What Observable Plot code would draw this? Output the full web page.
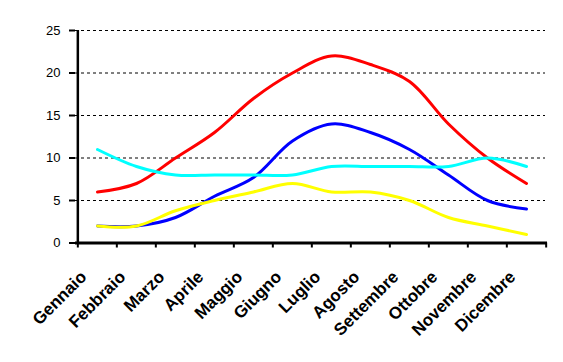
<!DOCTYPE html>
<html><head><meta charset="utf-8">
<script src="https://cdn.jsdelivr.net/npm/d3@7"></script>
<script src="https://cdn.jsdelivr.net/npm/@observablehq/plot@0.6"></script>
<style>body{margin:0;background:#fff} svg{display:block}</style>
</head><body><div id="chart"></div>
<script>
const months = ["Gennaio","Febbraio","Marzo","Aprile","Maggio","Giugno","Luglio","Agosto","Settembre","Ottobre","Novembre","Dicembre"];
const redValues    = [6, 7, 10, 13, 17, 20, 22, 21, 19, 14, 10, 7];
const blueValues   = [2, 2, 3, 5.5, 7.7, 12, 14, 13, 11, 8, 5, 4];
const yellowValues = [2, 2, 3.8, 5, 6, 7, 6, 6, 5, 3, 2, 1];
const cyanValues   = [11, 9, 8, 8, 8, 8, 9, 9, 9, 9, 10, 9];
const seriesNames  = ["rosso", "blu", "giallo", "azzurro"];
const seriesColors = ["#FF0000", "#0000FF", "#FFFF00", "#00FFFF"];
const yTicks = [0, 5, 10, 15, 20, 25];

const allValues = [redValues, blueValues, yellowValues, cyanValues];
const data = seriesNames.flatMap((s, k) => months.map((m, i) => ({month: m, value: allValues[k][i], series: s})));

const W = 563, H = 362, ML = 75, MR = 16, MT = 30, MB = 119.5;
const step = (W - ML - MR) / months.length;

const plot = Plot.plot({
  width: W, height: H,
  marginLeft: ML, marginRight: MR, marginTop: MT, marginBottom: MB,
  style: {fontFamily: "'Liberation Sans', Arial, sans-serif", background: "#fff", color: "#000"},
  x: {type: "point", domain: months, padding: 0.5, axis: null, label: null},
  y: {domain: [0, 25], axis: null, label: null},
  color: {domain: seriesNames, range: seriesColors},
  marks: [
    Plot.gridY(yTicks.slice(1), {stroke: "#000", strokeOpacity: 1, strokeWidth: 1, strokeDasharray: "3,3", insetRight: 2}),
    Plot.axisY(yTicks, {tickSize: 6, tickPadding: 9, fontSize: 13, strokeWidth: 2, label: null, tickFormat: d => String(d)}),
    Plot.axisX(months, {tickSize: 5, strokeWidth: 2, dx: -step / 2, label: null, tickFormat: () => ""}),
    Plot.axisX([months[months.length - 1]], {tickSize: 5, strokeWidth: 2, dx: step / 2, label: null, tickFormat: () => ""}),
    Plot.ruleX([months[0]], {dx: -step / 2, y1: 0, y2: 25, strokeWidth: 2.5}),
    Plot.ruleY([0], {strokeWidth: 3}),
    Plot.line(data, {x: "month", y: "value", z: "series", stroke: "series", strokeWidth: 3, curve: "catmull-rom"}),
    Plot.text(months, {x: d => d, frameAnchor: "bottom", text: d => d, rotate: -45, textAnchor: "end",
      dx: -10, dy: 35, fontSize: 17, fontWeight: "bold"})
  ]
});
document.getElementById("chart").appendChild(plot);
</script>
</body></html>
